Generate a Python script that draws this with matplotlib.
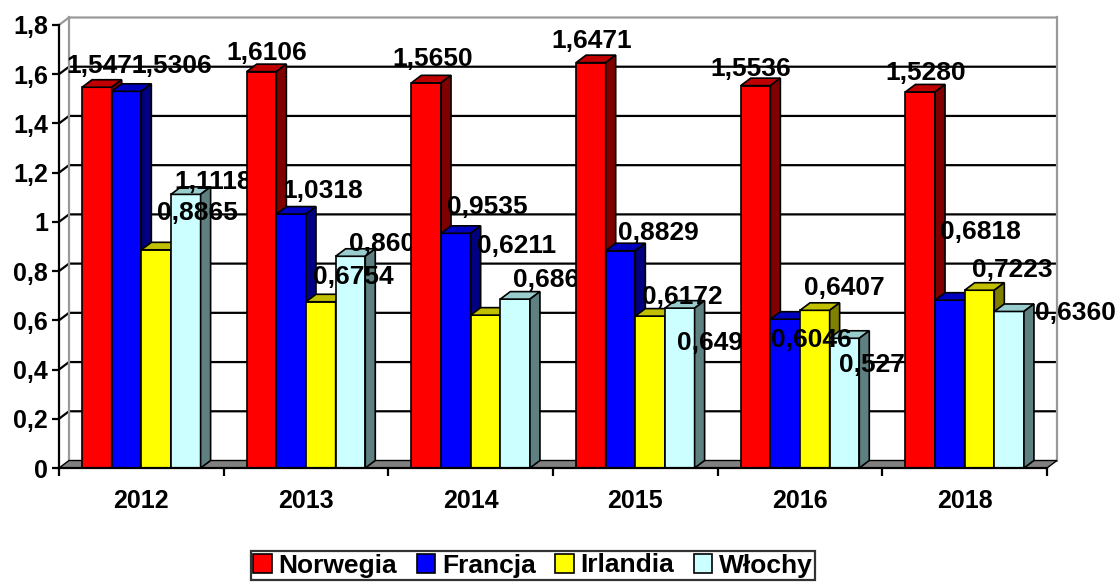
import matplotlib
matplotlib.use("Agg")
from matplotlib import pyplot as plt
from matplotlib.patches import Polygon, Patch
from matplotlib.ticker import FuncFormatter

plt.rcParams['font.family'] = ['Liberation Sans', 'DejaVu Sans']
plt.rcParams['font.weight'] = 'bold'

years = ['2012', '2013', '2014', '2015', '2016', '2018']
series_names = ['Norwegia', 'Francja', 'Irlandia', 'Włochy']
norwegia = [1.5471, 1.6106, 1.5650, 1.6471, 1.5536, 1.5280]
francja = [1.5306, 1.0318, 0.9535, 0.8829, 0.6046, 0.6818]
irlandia = [0.8865, 0.6754, 0.6211, 0.6172, 0.6407, 0.7223]
wlochy = [1.1118, 0.8603, 0.6862, 0.6495, 0.5271, 0.6360]
yticks = [0, 0.2, 0.4, 0.6, 0.8, 1.0, 1.2, 1.4, 1.6, 1.8]

# label offsets in pixels (right, up) from the top-centre of the front face
off_norwegia = [(10, 21), (5, 19), (6, 24), (1, 22), (-5, 17), (5, 19)]
off_francja = [(45, 25), (32, 23), (31, 26), (38, 18), (26, -21), (31, 68)]
off_irlandia = [(41, 37), (32, 25), (31, 69), (32, 19), (29, 22), (33, 20)]
off_wlochy = [(27, 12), (39, 12), (38, 19), (38, -35), (35, -27), (66, -2)]

values = [norwegia, francja, irlandia, wlochy]
offsets = [off_norwegia, off_francja, off_irlandia, off_wlochy]
front = ['#FF0000', '#0000FF', '#FFFF00', '#CCFFFF']
top = ['#C00000', '#0000C0', '#C0C000', '#99CCCC']
side = ['#800000', '#000080', '#808000', '#5F8080']

W, H = 1120, 584
fig = plt.figure(figsize=(W / 100, H / 100), dpi=100)
x_l, x_r, y_0, y_t = 59, 1047, 468, 25
ax = fig.add_axes([x_l / W, (H - y_0) / H, (x_r - x_l) / W, (y_0 - y_t) / H])
ax.set_xlim(-0.5, len(years) - 0.5)
ax.set_ylim(0, 1.8)

# 3d depth in data units
dx = 10 / ((x_r - x_l) / len(years))
dy = 7.5 / ((y_0 - y_t) / 1.8)
xmin, xmax = -0.5, len(years) - 0.5

# back wall, floor and gridlines
for v in yticks[1:]:
    col = '#999999' if v == 1.8 else 'black'
    ax.plot([xmin, xmin + dx, xmax + dx], [v, v + dy, v + dy], color=col,
            lw=1.6, zorder=2, clip_on=False, solid_capstyle='butt')
ax.plot([xmin + dx, xmin + dx], [dy, 1.8 + dy], color='#999999', lw=1.6, zorder=2, clip_on=False)
ax.plot([xmax + dx, xmax + dx], [dy, 1.8 + dy], color='#999999', lw=1.6, zorder=2, clip_on=False)
ax.add_patch(Polygon([(xmin, 0), (xmax, 0), (xmax + dx, dy), (xmin + dx, dy)],
                     facecolor='#808080', edgecolor='black', lw=1, zorder=3, clip_on=False))

w = 0.18
for i in range(len(years)):
    base = 10 + i * 10
    for j in range(4):
        v = values[j][i]
        xc = i + (j - 1.5) * w
        ax.bar([xc], [v], width=w, color=front[j], edgecolor='black', lw=1.2,
               zorder=base + j, clip_on=False)
        x0, x1 = xc - w / 2, xc + w / 2
        ax.add_patch(Polygon([(x0, v), (x1, v), (x1 + dx, v + dy), (x0 + dx, v + dy)],
                             facecolor=top[j], edgecolor='black', lw=1.2,
                             zorder=base + j, clip_on=False))
        ax.add_patch(Polygon([(x1, 0), (x1 + dx, dy), (x1 + dx, v + dy), (x1, v)],
                             facecolor=side[j], edgecolor='black', lw=1.2,
                             zorder=base + j, clip_on=False))
    for j in range(4):
        v = values[j][i]
        xc = i + (j - 1.5) * w
        ax.annotate(f"{v:.4f}".replace('.', ','), xy=(xc, v), xytext=offsets[j][i],
                    textcoords='offset pixels', ha='center', va='center',
                    fontsize=19, fontweight='bold', zorder=base + 8,
                    annotation_clip=False)

# axes
for s in ['top', 'right']:
    ax.spines[s].set_visible(False)
ax.spines['left'].set_linewidth(1.6)
ax.spines['bottom'].set_linewidth(1.6)
ax.spines['bottom'].set_zorder(100)
ax.set_yticks(yticks)
ax.yaxis.set_major_formatter(FuncFormatter(lambda v, p: f"{v:g}".replace('.', ',')))
ax.tick_params(axis='y', length=5, width=1.6, labelsize=18, pad=3)
ax.set_xticks([k - 0.5 for k in range(len(years) + 1)])
ax.set_xticklabels([])
ax.set_xticks(range(len(years)), minor=True)
ax.set_xticklabels(years, minor=True)
ax.tick_params(axis='x', which='major', length=6, width=1.6)
ax.tick_params(axis='x', which='minor', length=0, labelsize=18, pad=15)
for lab in ax.get_yticklabels() + ax.get_xticklabels(minor=True):
    lab.set_fontweight('bold')

handles = [Patch(facecolor=front[j], edgecolor='black', lw=1.2) for j in range(4)]
leg = fig.legend(handles, series_names, loc='center', bbox_to_anchor=(533 / W, (H - 565.5) / H),
                 ncol=4, fontsize=19, frameon=True, fancybox=False, edgecolor='black',
                 handlelength=0.7, handleheight=0.7, handletextpad=0.25, columnspacing=0.75,
                 borderpad=0.1, borderaxespad=0)
leg.get_frame().set_linewidth(1.6)
for t in leg.get_texts():
    t.set_fontweight('bold')

fig.savefig('out.png', dpi=100)
